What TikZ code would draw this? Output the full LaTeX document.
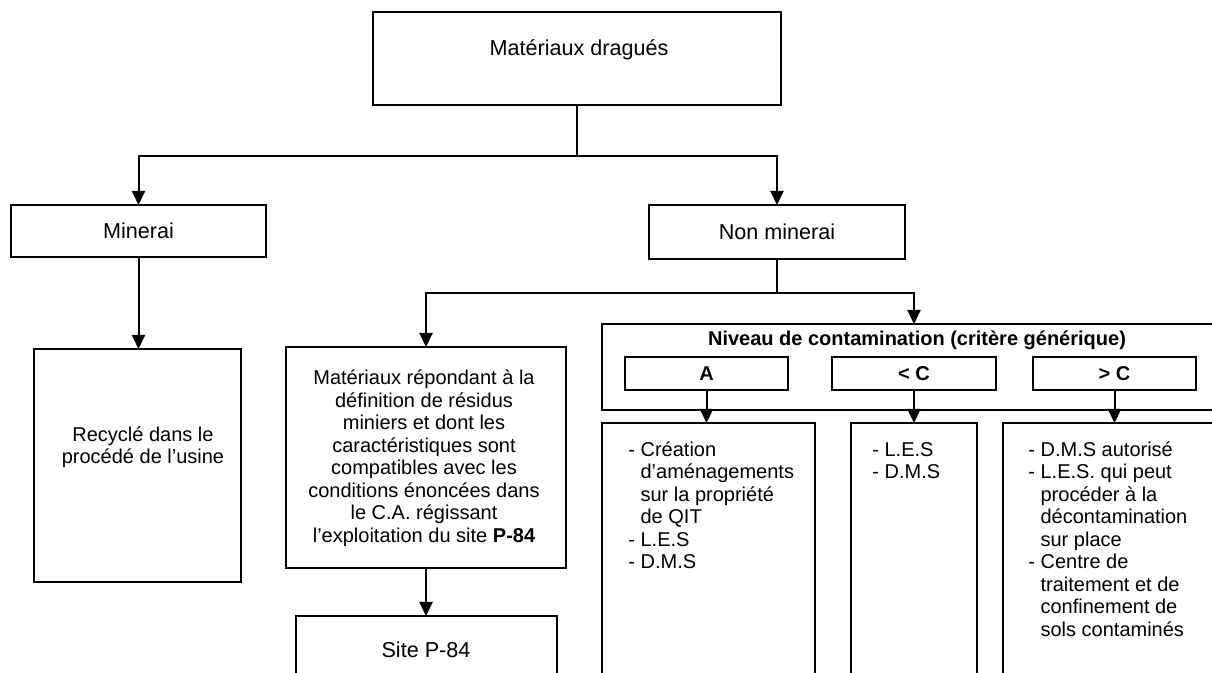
\documentclass[tikz,border=0pt]{standalone}
\usepackage{fontspec}
\setmainfont{Liberation Sans}
\usetikzlibrary{arrows.meta,fit}

\newcommand\diagfont{\fontsize{10}{11.25}\selectfont}
\newcommand\bigfont{\fontsize{10.8}{12.4}\selectfont}
\newcommand\hang{\hphantom{- }}

\tikzset{
  box/.style={draw, line width=1pt, inner sep=0pt, outer sep=0pt},
  arr/.style={line width=1pt, -{Triangle[width=6.5pt,length=7pt]}},
  txt/.style={inner sep=0pt, align=center},
  bigtxt/.style={txt, font=\bigfont},
  boldtxt/.style={txt, font=\diagfont\bfseries},
  lst/.style={inner sep=0pt, align=left, anchor=north west},
}

\begin{document}
\begin{tikzpicture}[x=0.5pt, y=-0.5pt, font=\diagfont]
  \clip (0,0) rectangle (1212,673);

  \node[box, fit={(373,12) (781,105)}] (drag) {};
  \node[bigtxt] (dragtxt) at (579,50) {Matériaux dragués};
  \node[box, fit={(11,205) (266,257)}] (min) {};
  \node[bigtxt] (mintxt) at (min) {Minerai};
  \node[box, fit={(649,205) (905,259)}] (nonmin) {};
  \node[bigtxt] (nonmintxt) at (nonmin) {Non minerai};
  \coordinate (j1) at (577,156);
  \draw[arr] (drag.south) -- (j1) -| (min.north);
  \draw[arr] (j1) -| (nonmin.north);

  % branche minerai
  \node[box, fit={(34,349) (241,582)}] (recy) {};
  \node[txt] (recytxt) at (143,447) {Recyclé dans le\\procédé de l’usine};
  \draw[arr] (min.south) -- (min.south |- recy.north);

  % branche non minerai
  \node[box, fit={(286,347) (566,568)}] (mat) {};
  \node[txt] (mattxt) at (424,458) {Matériaux répondant à la\\définition de résidus\\miniers et dont les\\caractéristiques sont\\compatibles avec les\\conditions énoncées dans\\le C.A. régissant\\l’exploitation du site \textbf{P-84}};
  \node[box, fit={(296,616) (557,720)}] (site) {};
  \node[bigtxt] (sitetxt) at (426,650) {Site P-84};
  \draw[arr] (mat.south) -- (mat.south |- site.north);

  \node[box, fit={(602,324) (1226,410)}] (niv) {};
  \node[boldtxt] (nivtxt) at (917,340) {Niveau de contamination (critère générique)};
  \coordinate (j2) at (777,293);
  \draw[arr] (nonmin.south) -- (j2) -| (mat.north);
  \draw[arr] (j2) -| (niv.north);

  \foreach \nm/\lbl/\xa/\xb in {a/A/625/788, lc/< C/832/996, gc/> C/1033/1196}{
    \node[box, fit={(\xa,357) (\xb,390)}] (\nm) {};
    \node[boldtxt] (\nm txt) at (\nm) {\lbl};
  }

  \node[box, fit={(602,423) (815,720)}] (lista) {};
  \node[box, fit={(851,423) (977,720)}] (listlc) {};
  \node[box, fit={(1003,423) (1226,720)}] (listgc) {};
  \draw[arr] (a.south) -- (a.south |- lista.north);
  \draw[arr] (lc.south) -- (lc.south |- listlc.north);
  \draw[arr] (gc.south) -- (gc.south |- listgc.north);

  \node[lst] (listatxt) at (628,440) {\strut- Création\\\hang d’aménagements\\\hang sur la propriété\\\hang de QIT\\- L.E.S\\- D.M.S};
  \node[lst] (listlctxt) at (872,440) {\strut- L.E.S\\- D.M.S};
  \node[lst] (listgctxt) at (1028,440) {\strut- D.M.S autorisé\\- L.E.S. qui peut\\\hang procéder à la\\\hang décontamination\\\hang sur place\\- Centre de\\\hang traitement et de\\\hang confinement de\\\hang sols contaminés};
\end{tikzpicture}
\end{document}
